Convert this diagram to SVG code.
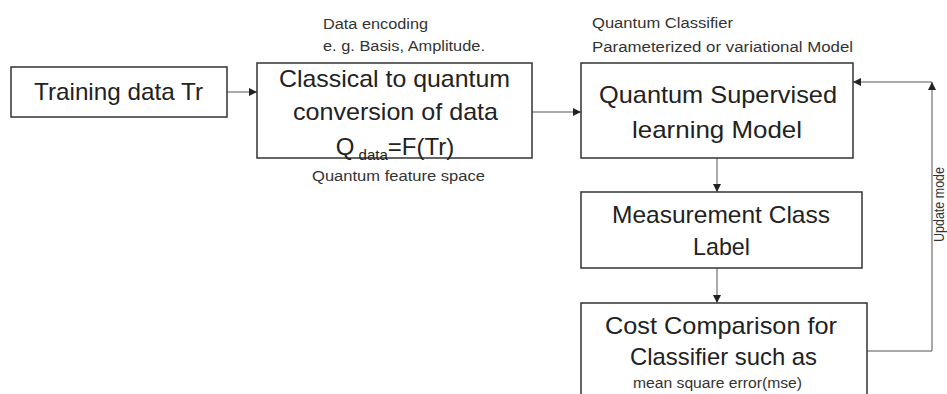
<svg xmlns="http://www.w3.org/2000/svg" width="947" height="394" viewBox="0 0 947 394">
<defs>
<marker id="ah" viewBox="0 0 10 10" refX="10" refY="5" markerWidth="8" markerHeight="8" markerUnits="userSpaceOnUse" orient="auto">
<path d="M0,0 L10,5 L0,10 z" fill="#222"/>
</marker>
</defs>
<style>
.box{fill:#fff;stroke:#333;stroke-width:1.5}
.t{font-family:"Liberation Sans",Arial,sans-serif;fill:#222;font-size:24px;text-anchor:middle}
.s{font-family:"Liberation Sans",Arial,sans-serif;fill:#333;font-size:14px}
.c{fill:none;stroke:#555;stroke-width:1}
</style>
<rect width="947" height="394" fill="#fff"/>
<g id="connectors">
<line class="c" x1="227" y1="92" x2="257" y2="92" marker-end="url(#ah)"/>
<line class="c" x1="532" y1="112" x2="581" y2="112" marker-end="url(#ah)"/>
<line class="c" x1="717" y1="158" x2="717" y2="192" marker-end="url(#ah)"/>
<line class="c" x1="717" y1="268" x2="717" y2="303" marker-end="url(#ah)"/>
<polyline class="c" points="867,351 932,351 932,82" marker-end="url(#ah)"/>
<line class="c" x1="932" y1="82" x2="853" y2="82" marker-end="url(#ah)"/>
<text class="s" font-size="13" transform="translate(944,242) rotate(-90)" textLength="75" lengthAdjust="spacingAndGlyphs">Update mode</text>
</g>
<g id="training">
<rect class="box" x="11" y="67" width="216" height="50"/>
<text class="t" x="118.5" y="100" textLength="169" lengthAdjust="spacingAndGlyphs">Training data Tr</text>
</g>
<g id="conversion">
<text class="s" x="323" y="29" textLength="105" lengthAdjust="spacingAndGlyphs">Data encoding</text>
<text class="s" x="323" y="51" textLength="162" lengthAdjust="spacingAndGlyphs">e. g. Basis, Amplitude.</text>
<rect class="box" x="257" y="63" width="275" height="95"/>
<text class="t" x="394.5" y="87" textLength="231" lengthAdjust="spacingAndGlyphs">Classical to quantum</text>
<text class="t" x="395.5" y="120" textLength="205" lengthAdjust="spacingAndGlyphs">conversion of data</text>
<text class="t" x="395" y="155">Q<tspan font-size="15" dy="5"> data</tspan><tspan dy="-5">=F(Tr)</tspan></text>
<text class="s" x="398.5" y="181" text-anchor="middle" textLength="173" lengthAdjust="spacingAndGlyphs">Quantum feature space</text>
</g>
<g id="qsl">
<text class="s" x="592" y="28" textLength="141" lengthAdjust="spacingAndGlyphs">Quantum Classifier</text>
<text class="s" x="592" y="52" textLength="261" lengthAdjust="spacingAndGlyphs">Parameterized or variational Model</text>
<rect class="box" x="581" y="63" width="272" height="95"/>
<text class="t" x="718" y="103" textLength="238" lengthAdjust="spacingAndGlyphs">Quantum Supervised</text>
<text class="t" x="717" y="138" textLength="170" lengthAdjust="spacingAndGlyphs">learning Model</text>
</g>
<g id="measurement">
<rect class="box" x="581" y="192" width="281" height="76"/>
<text class="t" x="721" y="223" textLength="218" lengthAdjust="spacingAndGlyphs">Measurement Class</text>
<text class="t" x="721.5" y="255" textLength="57" lengthAdjust="spacingAndGlyphs">Label</text>
</g>
<g id="cost">
<rect class="box" x="581" y="303" width="286" height="120"/>
<text class="t" x="721" y="334" textLength="232" lengthAdjust="spacingAndGlyphs">Cost Comparison for</text>
<text class="t" x="723.5" y="365" textLength="187" lengthAdjust="spacingAndGlyphs">Classifier such as</text>
<text class="s" x="717.5" y="388" text-anchor="middle" textLength="169" lengthAdjust="spacingAndGlyphs">mean square error(mse)</text>
</g>
</svg>
